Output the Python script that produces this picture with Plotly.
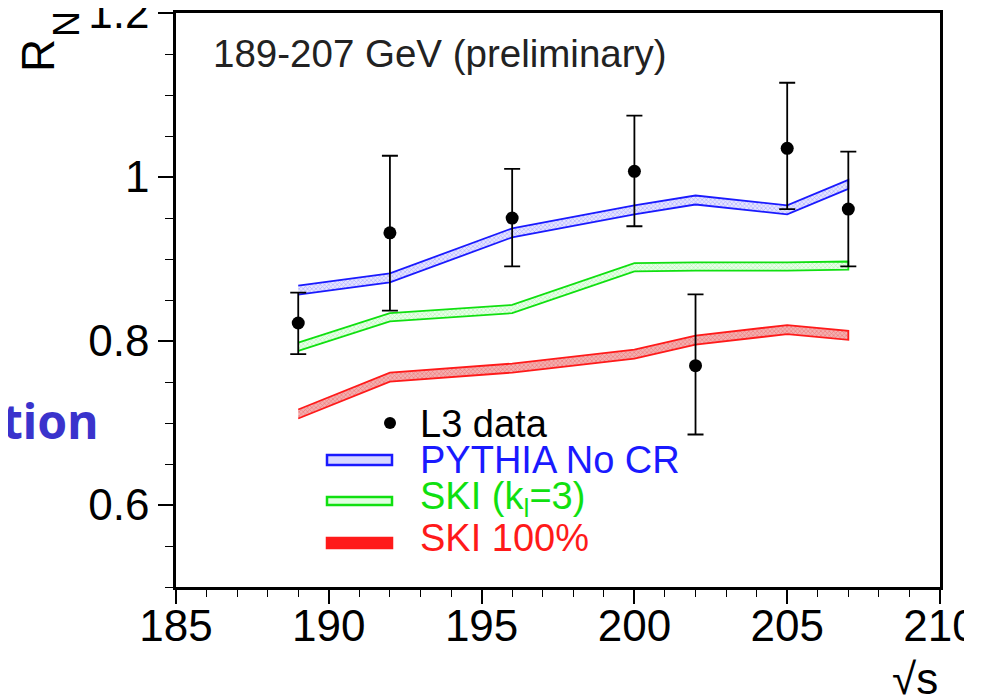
import plotly.graph_objects as go

# ---------------- data ----------------
energy = [189, 192, 196, 200, 202, 205, 207]
data_rn = [0.822, 0.932, 0.950, 1.007, 0.770, 1.035, 0.961]
err_up = [0.037, 0.094, 0.060, 0.068, 0.087, 0.080, 0.070]
err_dn = [0.038, 0.095, 0.059, 0.067, 0.084, 0.074, 0.070]

pythia_nocr = [0.862, 0.877, 0.932, 0.960, 0.972, 0.960, 0.991]
ski_k3 = [0.793, 0.829, 0.839, 0.890, 0.891, 0.891, 0.892]
ski_100 = [0.711, 0.756, 0.767, 0.784, 0.801, 0.814, 0.807]
band_halfwidth = {"pythia": 0.0055, "ski3": 0.005, "ski100": 0.0055}

x_ticks = [185, 190, 195, 200, 205, 210]
y_ticks = [0.6, 0.8, 1.0, 1.2]
y_ticklabels = ["0.6", "0.8", "1", "1.2"]

# ---------------- layout geometry (pixels, page coordinates) ----------------
PAGE_W, PAGE_H = 986, 698
OFF = 8  # default body margin of the html page
WIDTH, HEIGHT = PAGE_W - OFF, PAGE_H - OFF
L, R, T, B = 176, 940, 13, 587
PW, PH = R - L, B - T


def px(x):
    return (x - L) / PW


def py(y):
    return (B - y) / PH


FONT = "Liberation Sans, Arial, Helvetica, sans-serif"

fig = go.Figure()


def band(center, half, line_color, fg, bg):
    xs = energy + energy[::-1]
    ys = [c + half for c in center] + [c - half for c in center[::-1]]
    fig.add_trace(go.Scatter(
        x=xs, y=ys, mode="lines", fill="toself",
        line=dict(color=line_color, width=1.8),
        fillcolor=bg,
        fillpattern=dict(shape="x", fgcolor=fg, bgcolor=bg, size=3, solidity=0.35),
        showlegend=False, hoverinfo="skip",
    ))


band(pythia_nocr, band_halfwidth["pythia"], "#1a1aff", "rgba(60,60,255,0.75)", "#e6e6ff")
band(ski_k3, band_halfwidth["ski3"], "#10e010", "rgba(40,220,40,0.6)", "#eaffea")
band(ski_100, band_halfwidth["ski100"], "#ff1a1a", "rgba(230,40,40,0.9)", "#f3b0b0")

fig.add_trace(go.Scatter(
    x=energy, y=data_rn, mode="markers",
    marker=dict(color="black", size=13),
    error_y=dict(type="data", symmetric=False, array=err_up, arrayminus=err_dn,
                 color="black", thickness=1.8, width=8),
    showlegend=False, hoverinfo="skip",
))

axis_common = dict(
    showline=True, linecolor="black", linewidth=2.5, mirror=True,
    showgrid=False, zeroline=False, automargin=False,
    ticks="outside", tickcolor="black", tickwidth=1.5,
    ticklabeloverflow="allow",
    tickfont=dict(family=FONT, size=44, color="black"),
)

fig.update_xaxes(range=[185, 210], tickvals=x_ticks, ticktext=[str(v) for v in x_ticks],
                 ticklen=14, ticklabelstandoff=-16,
                 minor=dict(dtick=1, tick0=185, ticks="outside", ticklen=7,
                            tickcolor="black", tickwidth=1.2),
                 **axis_common)
fig.update_yaxes(range=[0.5, 1.2001], tickvals=y_ticks, ticktext=y_ticklabels,
                 ticklen=15,
                 minor=dict(dtick=0.05, tick0=0.5, ticks="outside", ticklen=8,
                            tickcolor="black", tickwidth=1.2),
                 **axis_common)

ann = []
shapes = []

# title inside frame
ann.append(dict(x=px(211), y=py(54), xref="paper", yref="paper", xanchor="left", yanchor="middle",
                text="189-207 GeV (preliminary)", showarrow=False,
                font=dict(family=FONT, size=38.5, color="#222222")))
# axis titles
ann.append(dict(x=px(38), y=py(56), xref="paper", yref="paper", xanchor="center", yanchor="middle",
                text="R", textangle=-90, showarrow=False,
                font=dict(family=FONT, size=46, color="black")))
ann.append(dict(x=px(67), y=py(24), xref="paper", yref="paper", xanchor="center", yanchor="middle",
                text="N", textangle=-90, showarrow=False,
                font=dict(family=FONT, size=36, color="black")))
ann.append(dict(x=px(940), y=py(678), xref="paper", yref="paper", xanchor="right", yanchor="middle",
                text="√s", showarrow=False,
                font=dict(family=FONT, size=44, color="black")))
# slide text fragment
ann.append(dict(x=px(100), y=py(421), xref="paper", yref="paper", xanchor="right", yanchor="middle",
                text="<b>tion</b>", showarrow=False,
                font=dict(family="Noto Sans, sans-serif", size=48, color="#3a33cc")))

# legend
leg_items = [
    ("L3 data", "black", 423),
    ("PYTHIA No CR", "#1a1aff", 459),
    ("SKI (k<sub>l</sub>=3)", "#10e010", 498),
    ("SKI 100%", "#ff1a1a", 537),
]
for text, col, yc in leg_items:
    ann.append(dict(x=px(418), y=py(yc + 1), xref="paper", yref="paper", xanchor="left", yanchor="middle",
                    text=text, showarrow=False, font=dict(family=FONT, size=38, color=col)))

shapes.append(dict(type="circle", xref="paper", yref="paper",
                   x0=px(384), x1=px(396), y0=py(417), y1=py(429),
                   fillcolor="black", line=dict(color="black", width=0)))
for (col, fill, y0, y1) in [("#1a1aff", "#d8d8ff", 455, 465), ("#10e010", "#e0ffe0", 497, 505),
                            ("#ff1a1a", "#ff1a1a", 538, 548)]:
    shapes.append(dict(type="rect", xref="paper", yref="paper",
                       x0=px(327), x1=px(392), y0=py(y1), y1=py(y0),
                       fillcolor=fill, line=dict(color=col, width=2.5)))

# crop of the right edge of the slide
shapes.append(dict(type="rect", xref="paper", yref="paper", layer="above",
                   x0=px(964), x1=px(990), y0=py(665), y1=py(595),
                   fillcolor="white", line=dict(width=0)))

fig.update_layout(
    width=WIDTH, height=HEIGHT,
    margin=dict(l=L - OFF, r=WIDTH - (R - OFF), t=T - OFF, b=HEIGHT - (B - OFF)),
    paper_bgcolor="white", plot_bgcolor="white",
    showlegend=False,
    annotations=ann, shapes=shapes,
)

fig.write_html("out.html")
